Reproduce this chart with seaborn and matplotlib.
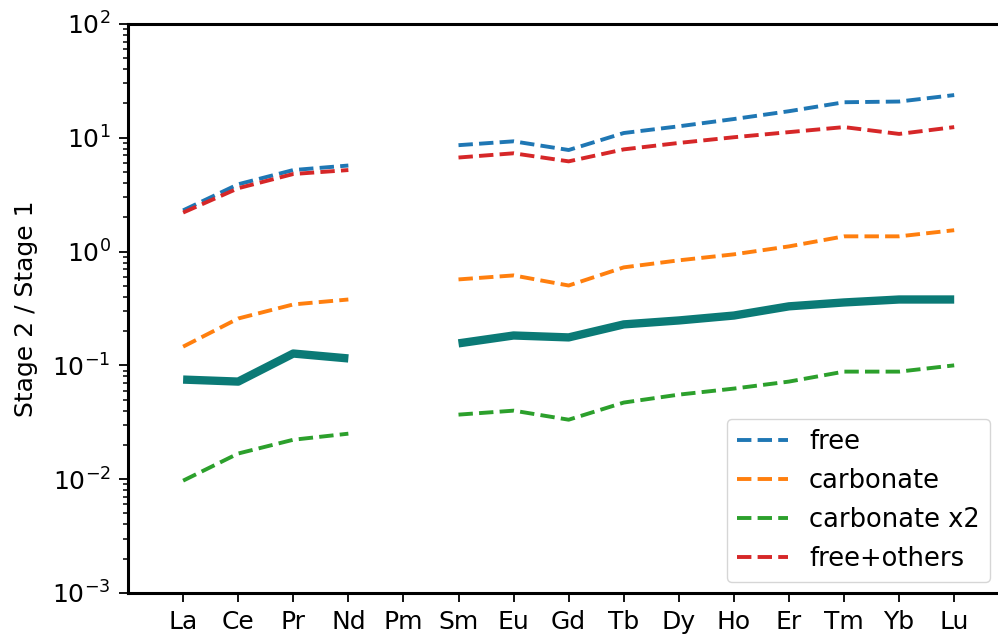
import numpy as np
import pandas as pd
import matplotlib
matplotlib.use("Agg")
import matplotlib.pyplot as plt
import seaborn as sns

elements = ["La", "Ce", "Pr", "Nd", "Pm", "Sm", "Eu", "Gd", "Tb", "Dy", "Ho", "Er", "Tm", "Yb", "Lu"]
nan = np.nan
free = [2.3, 3.9, 5.2, 5.7, nan, 8.6, 9.3, 7.8, 11.0, 12.6, 14.6, 17.1, 20.5, 20.8, 23.7]
carbonate = [0.146, 0.258, 0.343, 0.379, nan, 0.569, 0.617, 0.503, 0.726, 0.837, 0.945, 1.11, 1.36, 1.36, 1.54]
carbonate_x2 = [0.0097, 0.0168, 0.0222, 0.0251, nan, 0.0369, 0.040, 0.0333, 0.0471, 0.0553, 0.0625, 0.072, 0.0881, 0.0881, 0.100]
free_others = [2.2, 3.6, 4.8, 5.2, nan, 6.7, 7.3, 6.2, 7.9, 9.0, 10.1, 11.2, 12.4, 10.8, 12.4]
measured = [0.075, 0.072, 0.127, 0.115, nan, 0.156, 0.183, 0.176, 0.229, 0.248, 0.274, 0.33, 0.357, 0.379, 0.379]

series_names = ["free", "carbonate", "carbonate x2", "free+others"]
series_vals = [free, carbonate, carbonate_x2, free_others]
series_colors = ["#1f77b4", "#ff7f0e", "#2ca02c", "#d62728"]

rows = []
for name, vals in zip(series_names + ["measured"], series_vals + [measured]):
    for i, (el, v) in enumerate(zip(elements, vals)):
        rows.append({"series": name, "pos": i, "element": el, "value": v,
                     "segment": 0 if i < 4 else 1})
df = pd.DataFrame(rows).dropna()

sns.set_theme(style="ticks", rc={
    "axes.edgecolor": "black", "axes.linewidth": 2.2,
    "xtick.color": "black", "ytick.color": "black",
    "text.color": "black", "axes.labelcolor": "black",
})
plt.rcParams["font.family"] = ["DejaVu Sans"]

fig = plt.figure(figsize=(9.98, 6.43), dpi=100)
ax = fig.add_axes([0.1283, 0.0778, 0.883, 0.885])

for name, color in zip(series_names, series_colors):
    sub = df[df.series == name]
    for seg in (0, 1):
        s = sub[sub.segment == seg]
        sns.lineplot(data=s, x="pos", y="value", ax=ax, color=color, linestyle="--",
                     lw=2.8, label=name if seg == 0 else None, estimator=None, legend=False)

sub = df[df.series == "measured"]
for seg in (0, 1):
    s = sub[sub.segment == seg]
    sns.lineplot(data=s, x="pos", y="value", ax=ax, color="#0b7a76", lw=6,
                 estimator=None, legend=False, solid_capstyle="butt")

ax.set_yscale("log")
ax.set_ylim(1e-3, 1e2)
ax.set_xlim(-1, 15)
ax.set_xticks(range(len(elements)))
ax.set_xticklabels(elements)
ax.set_xlabel("")
ax.set_ylabel("Stage 2 / Stage 1", fontsize=18, labelpad=10)
ax.tick_params(axis="both", which="major", labelsize=18, length=6.5, width=1.3, pad=6)
ax.tick_params(axis="y", which="minor", length=3.8, width=1.1)
for sp in ax.spines.values():
    sp.set_visible(True)
    sp.set_linewidth(2.2)
ax.spines["right"].set_visible(False)

handles, labels = ax.get_legend_handles_labels()
leg = ax.legend(handles, labels, loc="lower right", bbox_to_anchor=(0.992, 0.095),
                bbox_transform=fig.transFigure, fontsize=18.5, frameon=True,
                framealpha=0.8, edgecolor="0.8", fancybox=True, borderaxespad=0)

fig.savefig("out.png", dpi=100)
